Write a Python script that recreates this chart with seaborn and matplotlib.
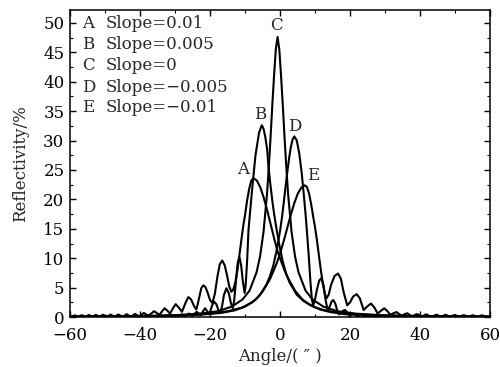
import numpy as np
import pandas as pd
import matplotlib
matplotlib.use("Agg")
import matplotlib.pyplot as plt
from matplotlib.ticker import MultipleLocator
import seaborn as sns

# curve A, slope=0.01
a_x = [-60, -59.6, -58.6, -57.6, -56.6, -55.6, -54.6, -53.6, -52.6, -51.6, -50.6, -49.5, -48.4,
       -47.3, -46.2, -45.6, -45.0, -44.4, -43.8, -43.2, -42.6, -42.0, -41.4, -40.8, -40.2, -39.6,
       -38.9, -38.2, -37.5, -36.8, -36.0, -35.2, -34.5, -33.8, -33.0, -32.2, -31.4, -30.6, -29.8,
       -28.9, -28.0, -27.0, -26.2, -25.4, -24.5, -23.9, -23.2, -22.5, -21.9, -21.3, -20.7, -20.0,
       -19.3, -18.6, -17.9, -17.2, -16.5, -15.8, -15.1, -14.5, -13.9, -13.4, -12.8, -12.2, -11.6,
       -11.0, -10.5, -10.0, -9.4, -8.8, -8.2, -7.6, -6.6, -5.6, -4.6, -3.6, -2.6, -1.6, -0.6, 0.0,
       1.4, 2.4, 4.4, 6.4, 8.4, 11.4, 14.4, 18.4, 24.4, 32.4, 47.4, 60]
a_y = [0.05, 0.03, 0.3, 0.03, 0.33, 0.03, 0.36, 0.04, 0.38, 0.04, 0.4, 0.05, 0.42,
       0.06, 0.45, 0.25, 0.08, 0.25, 0.5, 0.25, 0.1, 0.3, 0.55, 0.3, 0.15, 0.4,
       0.7, 0.45, 0.25, 0.6, 1.0, 0.7, 0.35, 0.9, 1.5, 1.1, 0.6, 1.5, 2.2,
       1.6, 0.9, 2.4, 3.4, 3.0, 1.8, 1.3, 3.0, 4.9, 5.4, 5.1, 4.2, 2.9,
       2.4, 4.0, 6.8, 9.0, 9.6, 8.8, 7.0, 5.2, 4.3, 4.6, 5.8, 7.8, 10.5,
       13.3, 15.5, 17.3, 19.8, 21.8, 23.2, 23.6, 23.2, 22.0, 20.2, 18.0, 15.6, 13.2, 11.0, 10.0,
       7.8, 6.5, 4.4, 3.0, 2.1, 1.3, 0.85, 0.5, 0.3, 0.17, 0.08, 0.05]

# curve B, slope=0.005
b_x = [-60, -59, -58, -57, -56, -55, -54, -53, -52, -51, -50, -49, -48, -47, -46, -45, -44, -43,
       -42, -41, -40, -39, -38, -37, -36, -35, -34, -33, -32, -31, -30, -29, -28, -27, -26, -25.0,
       -24.4, -23.8, -23.2, -22.6, -22.0, -21.4, -20.8, -20.3, -20.0, -19.4, -18.8, -18.2, -17.6,
       -17.1, -16.6, -16.0, -15.3, -14.6, -14.0, -13.5, -13.1, -12.6, -12.1, -11.6, -11.1, -10.6,
       -10.1, -9.8, -9.4, -9.0, -8.6, -8.0, -7.0, -6.0, -5.2, -4.7, -4.2, -3.7, -3.2, -2.7, -2.2,
       -1.7, -0.95, -0.2, 0.8, 1.8, 2.8, 4.8, 6.8, 9.8, 12.8, 16.8, 22.8, 30.8, 45, 60]
b_y = [0.03, 0.01, 0.06, 0.01, 0.07, 0.01, 0.08, 0.01, 0.09, 0.02, 0.1, 0.02, 0.11, 0.02, 0.12, 0.02, 0.13, 0.02,
       0.14, 0.03, 0.15, 0.03, 0.17, 0.04, 0.2, 0.05, 0.24, 0.06, 0.3, 0.08, 0.36, 0.1, 0.45, 0.15, 0.6, 0.2,
       0.55, 0.9, 0.6, 0.35, 1.0, 1.5, 1.0, 0.45, 0.8, 2.0, 2.6, 2.2, 1.2,
       0.7, 1.7, 3.8, 4.9, 4.0, 2.3, 1.5, 2.8, 6.0, 9.2, 10.2, 8.8, 6.0,
       4.1, 5.5, 9.5, 14.8, 17.5, 21.5, 27.5, 31.3, 32.6, 32.0, 30.6, 28.6, 25.0, 22.3, 19.8,
       17.6, 14.8, 12.3, 9.4, 7.3, 5.8, 3.8, 2.7, 1.7, 1.15, 0.75, 0.45, 0.25, 0.12, 0.07]

# curve C, slope=0
c_x = [-60, -45, -30.7, -22.7, -17.7, -13.7, -10.7, -8.7, -6.7, -5.7, -4.7, -3.7, -3.2, -2.7, -2.2,
       -1.7, -1.2, -0.7, -0.2, 0.3, 0.8, 1.3, 1.8, 2.3, 3.3, 4.3, 5.3, 7.3, 9.3, 12.3, 16.3, 21.3,
       29.3, 45, 60]
c_y = [0.08, 0.12, 0.3, 0.6, 1.0, 1.8, 3.0, 4.5, 7.6, 10.3, 14.5, 21.0, 25.5, 30.5, 36.0,
       41.0, 45.5, 47.6, 45.5, 41.0, 36.0, 30.5, 25.5, 21.0, 14.5, 10.3, 7.6, 4.5, 3.0, 1.8, 1.0, 0.6,
       0.3, 0.12, 0.08]

# curve D, slope=-0.005
d_x = [-60, -45, -33.9, -25.9, -19.9, -14.9, -10.9, -7.9, -5.9, -3.9, -2.9, -1.9, -0.9, 0.0, 0.6,
       1.1, 1.6, 2.1, 2.6, 3.1, 3.6, 4.1, 4.8, 5.5, 6.2, 6.8, 7.3, 7.7, 8.2, 8.7, 9.1, 9.5, 10.0,
       10.6, 11.2, 11.8, 12.4, 13.0, 13.6, 14.2, 14.7, 15.2, 15.8, 16.4, 16.9, 17.5, 18.1, 18.6,
       19.2, 19.8, 20.4, 21.0, 21.6, 22.2, 22.8, 23.4, 24.0, 24.6, 25.2, 25.8, 26.4, 27.0, 28.1,
       29.2, 30.3, 31.4, 32.5, 33.6, 34.7, 35.8, 36.9, 38, 40, 42, 44, 46, 50, 60]
d_y = [0.07, 0.12, 0.22, 0.38, 0.6, 1.0, 1.6, 2.5, 3.6, 5.5, 6.9, 8.8, 11.5, 14.6, 17.1,
       19.6, 22.2, 24.7, 27.0, 28.9, 30.2, 30.7, 30.0, 27.8, 24.5, 20.8, 17.5, 14.5, 10.5, 6.0, 3.0, 2.0, 3.0,
       4.8, 6.2, 6.6, 5.5, 3.0, 1.2, 1.8, 2.6, 2.9, 2.3, 1.0, 0.45, 0.8, 1.1, 1.2,
       0.8, 0.25, 0.45, 0.6, 0.35, 0.12, 0.3, 0.4, 0.2, 0.08, 0.22, 0.28, 0.12, 0.05, 0.2,
       0.04, 0.16, 0.03, 0.13, 0.03, 0.1, 0.02, 0.08, 0.02, 0.06, 0.02, 0.05, 0.02, 0.03, 0.02]

# curve E, slope=-0.01
e_x = [-60, -47.9, -32.9, -22.9, -16.9, -12.9, -9.9, -6.9, -4.9, -2.9, -0.9, 0.1, 1.1, 2.1, 3.1,
       4.1, 5.1, 6.1, 7.1, 7.7, 8.3, 8.9, 9.5, 10.0, 10.5, 11.0, 11.6, 12.2, 12.8, 13.3, 13.9,
       14.6, 15.6, 16.6, 17.4, 18.2, 19.2, 20.0, 20.9, 21.9, 22.8, 23.9, 24.9, 26.0, 27.0, 27.9,
       28.9, 29.8, 30.7, 31.5, 32.4, 33.3, 34.1, 34.8, 35.6, 36.4, 37.2, 37.9, 38.6, 39.3, 40.0,
       40.7, 41.4, 42.0, 42.7, 43.4, 44.7, 46.0, 47.3, 48.6, 49.9, 51.2, 52.5, 53.8, 55.1, 56.4,
       57.7, 59.0, 60]
e_y = [0.05, 0.09, 0.2, 0.4, 0.7, 1.15, 1.8, 3.0, 4.4, 6.4, 9.2, 11.0, 13.0, 15.2, 17.4,
       19.4, 21.0, 22.0, 22.4, 22.1, 21.0, 19.2, 17.0, 15.3, 13.3, 11.0, 8.3, 5.8, 4.0, 3.2, 3.8,
       5.5, 7.0, 7.4, 6.5, 4.2, 2.0, 2.5, 3.5, 3.9, 3.2, 1.2, 1.8, 2.3, 1.6, 0.6,
       1.1, 1.5, 1.0, 0.4, 0.65, 0.85, 0.5, 0.2, 0.5, 0.65, 0.3, 0.1, 0.4, 0.5, 0.2,
       0.08, 0.4, 0.45, 0.15, 0.06, 0.42, 0.05, 0.4, 0.04, 0.37, 0.04, 0.34, 0.03, 0.32, 0.03,
       0.3, 0.03, 0.15]

labels = ["A", "B", "C", "D", "E"]
slopes = ["0.01", "0.005", "0", "\u22120.005", "\u22120.01"]
peak_label_x = [-10.5, -5.7, -1.0, 4.3, 9.5]
peak_label_y = [25.0, 34.4, 49.5, 32.4, 24.0]

curves = [(a_x, a_y), (b_x, b_y), (c_x, c_y), (d_x, d_y), (e_x, e_y)]

sns.set_style("ticks")
plt.rcParams['font.family'] = ['DejaVu Serif']
plt.rcParams['mathtext.fontset'] = 'dejavuserif'

fig = plt.figure(figsize=(5, 3.67), dpi=100)
ax = fig.add_axes([0.14, 0.136, 0.84, 0.837])

for (cx, cy), lab in zip(curves, labels):
    df = pd.DataFrame({"angle": cx, "refl": cy})
    sns.lineplot(data=df, x="angle", y="refl", color="black", lw=1.5, ax=ax, sort=False)

for lab, px, py in zip(labels, peak_label_x, peak_label_y):
    ax.text(px, py, lab, ha="center", va="center", fontsize=12)

rows_y = [0.957, 0.886, 0.819, 0.748, 0.683]
for lab, sl, ry in zip(labels, slopes, rows_y):
    ax.text(0.028, ry, lab, transform=ax.transAxes, ha="left", va="center", fontsize=12)
    ax.text(0.086, ry, "Slope=" + sl, transform=ax.transAxes, ha="left", va="center", fontsize=12)

ax.set_xlim(-60, 60)
ax.set_ylim(0, 52.2)
ax.xaxis.set_major_locator(MultipleLocator(20))
ax.xaxis.set_minor_locator(MultipleLocator(10))
ax.yaxis.set_major_locator(MultipleLocator(5))
ax.yaxis.set_minor_locator(MultipleLocator(2.5))
ax.tick_params(which="both", direction="in", top=True, right=True, labelsize=12, colors="black")
ax.tick_params(which="major", length=4, width=1)
ax.tick_params(which="minor", length=2, width=0.8)
ax.tick_params(axis="x", which="major", pad=7)
ax.tick_params(axis="y", which="major", pad=4)
for s in ax.spines.values():
    s.set_linewidth(1.1)
    s.set_color("black")

ax.set_xlabel("Angle/( \u2033 )", fontsize=12, labelpad=3)
ax.set_ylabel("Reflectivity/%", fontsize=12, labelpad=10)

fig.savefig("out.png", dpi=100)
